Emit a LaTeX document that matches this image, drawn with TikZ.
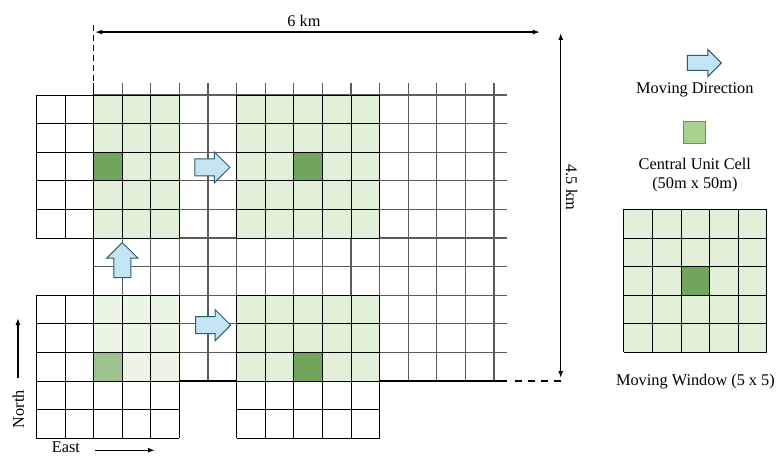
\documentclass[tikz,border=0pt]{standalone}
\usepackage{fontspec}
\setmainfont{Liberation Serif}
\usetikzlibrary{arrows.meta,shapes.arrows}
\definecolor{cellgreen}{HTML}{E2F0D9}
\definecolor{centregreen}{HTML}{72A55C}
\definecolor{fadegreen}{HTML}{EAF5E4}
\definecolor{fadecentre}{HTML}{9DC28B}
\definecolor{unitgreen}{HTML}{A9D18E}
\definecolor{arrowblue}{HTML}{C2E4F3}
\definecolor{arrowedge}{HTML}{2F5B6C}
\definecolor{gridgray}{HTML}{5C5C5C}
\tikzset{
  bggrid/.style={gridgray,line width=1.2pt},
  cellline/.style={black,line width=1pt},
  bound/.style={black,line width=1.5pt},
  dimline/.style={black,line width=1.4pt,{Latex[length=7pt,width=5pt]}-{Latex[length=7pt,width=5pt]}},
  compass/.style={black,line width=1.3pt,-{Latex[length=7pt,width=5pt]}},
  movearrow/.style={single arrow,draw=arrowedge,fill=arrowblue,line width=1pt,
    minimum height=35pt,single arrow head extend=7pt,inner xsep=0pt,inner ysep=8pt},
  unitcell/.style={draw=gray,fill=unitgreen,line width=0.6pt,minimum size=22pt,inner sep=0pt}
}
\begin{document}
\begin{tikzpicture}[x=28.6pt,y=-28.6pt,font=\fontsize{16.3}{19}\selectfont]
  \useasboundingbox (-1.276,-3.322) rectangle (25.892,12.622);
  % study area grid
  \foreach \x in {2,...,16}
    \draw[bggrid] (\x,-0.42) -- (\x,10);
  \foreach \y in {0,...,9}
    \draw[bggrid] (2,\y) -- (16.45,\y);
  \draw[bound] (2,10) -- (16.45,10);
  \draw[bound] (2,-0.42) -- (2,10);
  \draw[bound,dash pattern=on 6pt off 4pt] (2,-2.45) -- (2,-0.42);
  \draw[bound,dash pattern=on 7pt off 6pt] (16.73,10) -- (18.51,10);
  % moving windows: corner / green part / centre cell / colours
  \foreach \wx/\wy/\gx/\gy/\gxx/\gyy/\cx/\cy/\gc/\cc in {
      0/0/2/0/5/5/2/2/cellgreen/centregreen,
      7/0/7/0/12/5/9/2/cellgreen/centregreen,
      0/7/2/7/5/10/2/9/fadegreen/fadecentre,
      7/7/7/7/12/10/9/9/cellgreen/centregreen,
      20.54/4/20.54/4/25.54/9/22.54/6/cellgreen/centregreen} {
    \fill[white] (\wx,\wy) rectangle +(5,5);
    \fill[\gc] (\gx,\gy) rectangle (\gxx,\gyy);
    \fill[\cc] (\cx,\cy) rectangle +(1,1);
    \foreach \k in {0,...,5}
      \draw[cellline] (\wx+\k,\wy) -- +(0,5) (\wx,\wy+\k) -- +(5,0);
  }
  % moving direction
  \node[movearrow] (mvtop) at (6.0,2.53) {};
  \node[movearrow] (mvbottom) at (6.03,8.05) {};
  \node[movearrow,rotate=90] (mvup) at (3.0,5.92) {};
  % dimensions
  \draw[dimline] (2.05,-2.2) -- (17.6,-2.2);
  \node[anchor=base] (widthlbl) at (9.35,-2.39) {6 km};
  \draw[dimline] (18.33,-2.17) -- (18.33,9.9);
  \node[rotate=-90] (heightlbl) at (18.71,3.23) {4.5 km};
  % orientation
  \draw[compass] (-0.65,9.9) -- (-0.65,7.8);
  \node[rotate=90] (northlbl) at (-0.64,10.98) {North};
  \draw[compass] (2.05,12.42) -- (4.14,12.42);
  \node[anchor=base] (eastlbl) at (1.03,12.5) {East};
  % legend
  \node[movearrow,minimum height=34pt,single arrow head extend=6pt,inner ysep=7pt] (legarrow) at (23.22,-1.12) {};
  \node[anchor=base] (legarrowlbl) at (23.02,-0.07) {Moving Direction};
  \node[unitcell] (legcell) at (22.99,1.31) {};
  \node[anchor=base] (legcelllbl) at (23.02,2.62) {Central Unit Cell};
  \node[anchor=base] (legsizelbl) at (23.02,3.26) {(50m x 50m)};
  \node[anchor=base] (legwindowlbl) at (23.04,10.14) {Moving Window (5 x 5)};
\end{tikzpicture}
\end{document}
